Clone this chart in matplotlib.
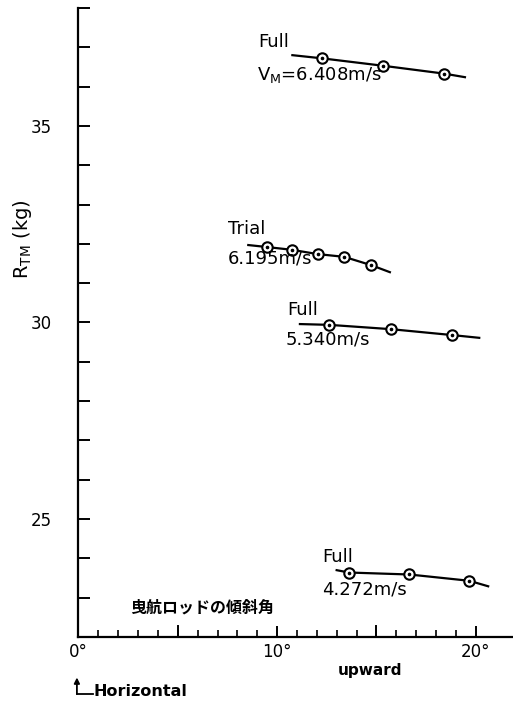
import matplotlib
matplotlib.use("Agg")
import matplotlib.pyplot as plt
from matplotlib.ticker import MultipleLocator, FixedLocator

plt.rcParams['font.family'] = ['DejaVu Sans', 'Noto Sans CJK JP']

# Towing-rod inclination angle (deg, upward) vs. model resistance R_TM (kg)
full_6408_x = [12.25, 15.35, 18.42]
full_6408_y = [36.72, 36.53, 36.33]
full_6408_curve_x = [10.77, 12.25, 15.35, 18.42, 19.46]
full_6408_curve_y = [36.80, 36.72, 36.53, 36.33, 36.24]

trial_6195_x = [9.48, 10.73, 12.04, 13.38, 14.73]
trial_6195_y = [31.92, 31.85, 31.74, 31.67, 31.46]
trial_6195_curve_x = [8.55, 9.48, 10.73, 12.04, 13.38, 14.73, 15.68]
trial_6195_curve_y = [31.97, 31.92, 31.85, 31.74, 31.67, 31.46, 31.28]

full_5340_x = [12.63, 15.74, 18.82]
full_5340_y = [29.94, 29.83, 29.68]
full_5340_curve_x = [11.15, 12.63, 15.74, 18.82, 20.18]
full_5340_curve_y = [29.96, 29.94, 29.83, 29.68, 29.61]

full_4272_x = [13.62, 16.66, 19.68]
full_4272_y = [23.64, 23.59, 23.43]
full_4272_curve_x = [13.00, 13.62, 16.66, 19.68, 20.63]
full_4272_curve_y = [23.70, 23.64, 23.59, 23.43, 23.29]

y_ticks_labeled = [25, 30, 35]
x_ticks_labeled = [0, 10, 20]
x_tick_labels = ['0°', '10°', '20°']

series = [
    (full_6408_curve_x, full_6408_curve_y, full_6408_x, full_6408_y),
    (trial_6195_curve_x, trial_6195_curve_y, trial_6195_x, trial_6195_y),
    (full_5340_curve_x, full_5340_curve_y, full_5340_x, full_5340_y),
    (full_4272_curve_x, full_4272_curve_y, full_4272_x, full_4272_y),
]

fig = plt.figure(figsize=(5.13, 7.01), dpi=100)
ax = fig.add_axes([0.153, 0.0913, 0.847, 0.8973])
ax.set_xlim(0, 21.88)
ax.set_ylim(22, 38)

for cx, cy, px, py in series:
    ax.plot(cx, cy, color='black', lw=1.6, zorder=2)
    ax.plot(px, py, linestyle='none', marker='o', ms=7.5, mfc='white',
            mec='black', mew=1.5, zorder=3)
    ax.plot(px, py, linestyle='none', marker='o', ms=1.6, color='black', zorder=4)

for side in ('top', 'right'):
    ax.spines[side].set_visible(False)
for side in ('left', 'bottom'):
    ax.spines[side].set_linewidth(1.6)

ax.yaxis.set_major_locator(FixedLocator(y_ticks_labeled))
ax.yaxis.set_minor_locator(MultipleLocator(1))
ax.xaxis.set_major_locator(FixedLocator(x_ticks_labeled))
ax.xaxis.set_minor_locator(FixedLocator([v for v in range(1, 21) if v not in x_ticks_labeled]))
ax.set_xticklabels(x_tick_labels)
ax.tick_params(axis='y', which='both', direction='in', length=8.5, width=1.4,
               labelsize=12, pad=19)
ax.tick_params(axis='x', which='major', direction='in', length=8, width=1.4,
               labelsize=12, pad=4)
ax.tick_params(axis='x', which='minor', direction='in', length=5, width=1.2)
for lbl in ax.get_xticklabels():
    lbl.set_x(lbl.get_position()[0])
# the 5° and 15° marks are drawn long like the labelled ones
for v in (5, 15):
    ax.plot([v, v], [22, 22 + 8 / 0.72 / 39.3], color='black', lw=1.4,
            clip_on=False, zorder=1)

ax.set_ylabel(r'$\mathregular{R_{TM}}$ (kg)', fontsize=14, labelpad=8)
ax.yaxis.set_label_coords(-0.102, 0.633)

txt = dict(fontsize=13, ha='left', va='center', color='black')
ax.text(9.04, 37.14, 'Full', **txt)
ax.text(8.99, 36.30, r'$\mathregular{V_M}$=6.408m/s', **txt)
ax.text(7.53, 32.38, 'Trial', **txt)
ax.text(7.53, 31.62, '6.195m/s', **txt)
ax.text(10.50, 30.32, 'Full', **txt)
ax.text(10.45, 29.58, '5.340m/s', **txt)
ax.text(12.26, 24.03, 'Full', **txt)
ax.text(12.26, 23.22, '4.272m/s', **txt)

ax.text(6.22, 22.74, '曳航ロッドの傾斜角', fontsize=11.5, ha='center', va='center',
        family=['Noto Sans CJK JP', 'DejaVu Sans'], fontweight='bold')

ax.text(14.7, 21.15, 'upward', fontsize=11, fontweight='bold', ha='center', va='center')
ax.text(0.75, 20.62, 'Horizontal', fontsize=11.5, fontweight='bold', ha='left', va='center')
ax.annotate('', xy=(-0.08, 20.97), xytext=(-0.08, 20.55),
            arrowprops=dict(arrowstyle='-|>', color='black', lw=1.3,
                            mutation_scale=8, shrinkA=0, shrinkB=0),
            annotation_clip=False)
ax.plot([-0.08, 0.72], [20.55, 20.55], color='black', lw=1.3, clip_on=False)

fig.savefig('out.png', dpi=100)
